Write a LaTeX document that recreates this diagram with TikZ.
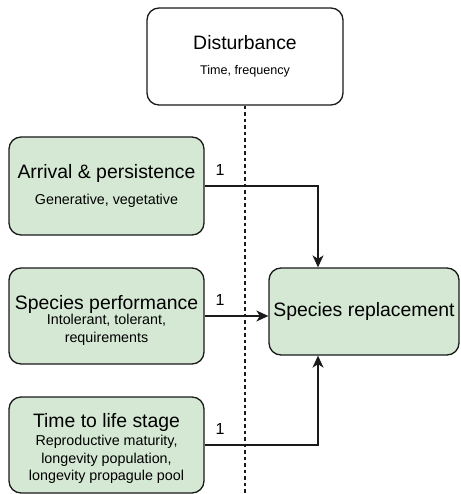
\documentclass[tikz,border=0pt]{standalone}
\usepackage{fontspec}
\setmainfont{Liberation Sans}
\usetikzlibrary{arrows.meta}

% font sizes for the box titles, the detail lines and the edge labels
\newcommand{\ttlfont}{\fontsize{19.4}{22}\selectfont}
\newcommand{\detfont}{\fontsize{14.3}{17.5}\selectfont}
\newcommand{\smdetfont}{\fontsize{12.6}{15}\selectfont}
% extra head room above a title line, to sit the text block lower in its box
\newcommand{\headroom}[1]{\rule{0pt}{#1}}

\definecolor{boxgreen}{HTML}{D5E8D4}
\definecolor{linegray}{HTML}{1A1A1A}

\begin{document}
\begin{tikzpicture}[x=1pt,y=-1pt,
  box/.style={draw=linegray, line width=1.3pt, rounded corners=12pt,
              align=center, inner sep=0pt, text=black},
  factor/.style={box, fill=boxgreen, minimum width=195pt, font=\detfont},
  link/.style={draw=linegray, line width=1.3pt,
               -{Stealth[length=12pt,width=11pt,inset=3.5pt]}},
  edgelbl/.style={font=\fontsize{16}{18}\selectfont, inner sep=0pt},
  divider/.style={draw=linegray, line width=1.3pt, dash pattern=on 3.5pt off 3pt}
]
\useasboundingbox (0,0) rectangle (460,494);

% disturbance box at the top with the dashed divider beneath it
\node[box, fill=white, minimum width=196pt, minimum height=97pt, font=\smdetfont] (dist) at (245,56.5)
  {{\ttlfont Disturbance}\\[10pt]Time, frequency};
\coordinate (divend) at (245,494);
\draw[divider] (dist.south) -- (divend);

% the three drivers on the left
\node[factor, minimum height=98pt] (arr) at (106.5,186)
  {{\ttlfont Arrival \& persistence}\\[8pt]Generative, vegetative};
\node[factor, minimum height=96pt] (perf) at (106.5,316)
  {{\ttlfont\headroom{22pt}Species performance}\\[-2pt]Intolerant, tolerant,\\requirements};
\node[factor, minimum height=96pt] (life) at (106.5,445)
  {{\ttlfont\headroom{21pt}Time to life stage}\\[1pt]Reproductive maturity,\\longevity population,\\longevity propagule pool};

% outcome box
\node[box, fill=boxgreen, minimum width=190pt, minimum height=87pt] (repl) at (364,311.5)
  {\ttlfont Species replacement};

% connectors
\draw[link] (arr.east) -| (repl.north -| 318,0);
\draw[link] (perf.east) -- (repl.west |- perf.east);
\draw[link] (life.east) -| (repl.south -| 318,0);

% edge labels
\node[edgelbl] (l1) at (220,170) {1};
\node[edgelbl] (l2) at (220,300) {1};
\node[edgelbl] (l3) at (220,429) {1};
\end{tikzpicture}
\end{document}
